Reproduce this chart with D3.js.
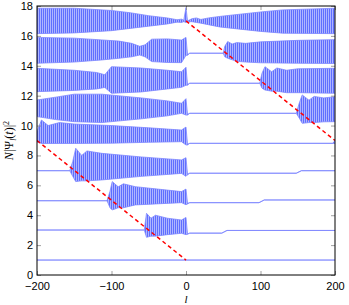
<!DOCTYPE html>
<html>
<head>
<meta charset="utf-8">
<script src="https://cdn.jsdelivr.net/npm/d3@7"></script>
<style>
  body { margin: 0; background: #fff; }
  .axis text { font-family: "Liberation Sans", Arial, sans-serif; font-size: 11px; fill: #000; }
</style>
</head>
<body>
<div class="canva"></div>
<script>
// wave packet envelopes: [l, top, bottom]
var psi1 = [[-200,1,1],[200,1,1]];
var psi3 = [[-200,3.01,3.01],[-56,3.01,3.01],[-53,4.13,2.52],[-47,3.8,2.6],[-41,4.0,2.6],[-25,3.8,2.7],[-6,3.68,2.79],[0,3.85,2.7],
            [2,2.75,2.72],[5,2.8,2.8],[48,2.8,2.8],[55,2.98,2.98],[200,2.98,2.98]];
var psi5 = [[-200,4.97,4.97],[-106,4.97,4.97],[-102,5.6,4.5],[-99,6.25,4.35],[-91,5.9,4.5],[-84,6.1,4.5],[-68,5.91,4.69],[-6,5.58,4.84],[0,5.75,4.7],
            [2,4.8,4.75],[5,4.84,4.84],[98,4.84,4.84],[105,5.02,5.02],[200,5.02,5.02]];
var psi7 = [[-200,6.98,6.98],[-156,6.98,6.98],[-152,7.6,6.6],[-148,8.48,6.25],[-140,8.0,6.3],[-133,8.3,6.3],[-113,8.14,6.36],[-60,7.9,6.6],[-6,7.7,6.8],[0,7.85,6.6],
            [2,6.75,6.7],[5,6.81,6.81],[148,6.81,6.81],[155,6.98,6.98],[200,6.98,6.98]];
var psi9 = [[-200,9.6,8.9],[-194,10.37,8.8],[-185,10.0,8.8],[-170,10.2,8.8],[-150,10.1,8.8],[-100,10.0,8.82],[-50,9.85,8.88],[-6,9.7,8.92],[0,9.9,8.7],
            [2,8.75,8.7],[5,8.81,8.81],[197,8.81,8.81],[200,9.0,8.8]];
var psi11 = [[-200,11.71,10.6],[-175,11.9,10.4],[-150,12.1,10.26],[-113,12.1,10.2],[-60,11.85,10.45],[-25,11.65,10.65],[-6,11.49,10.82],[0,11.8,10.7],
             [2,10.75,10.7],[5,10.82,10.82],[148,10.82,10.82],[152,11.5,10.5],[156,12.05,10.15],[165,11.7,10.2],[172,11.95,10.2],[185,11.85,10.25],[200,11.93,10.26]];
var psi13 = [[-200,13.83,12.27],[-150,13.7,12.35],[-120,13.55,12.45],[-109,13.4,12.55],[-100,13.94,12.16],[-60,13.85,12.25],[-25,13.7,12.45],[-6,13.6,12.56],[0,13.9,12.7],
             [2,12.75,12.7],[5,12.83,12.83],[99,12.83,12.83],[102,13.5,12.5],[106,13.94,12.38],[115,13.6,12.3],[122,13.85,12.3],[135,13.7,12.2],[150,13.8,12.2],[200,13.83,12.16]];
var psi15 = [[-200,15.9,14.17],[-150,15.85,14.25],[-113,15.73,14.39],[-90,15.65,14.5],[-73,15.5,14.6],[-62,15.3,14.72],[-55,15.4,14.6],[-46,15.78,14.28],[-25,15.8,14.22],[-6,15.72,14.21],[0,15.9,14.7],
             [2,14.75,14.7],[5,14.84,14.84],[50,14.84,14.84],[52,15.3,14.6],[56,15.62,14.5],[62,15.45,14.4],[68,15.55,14.3],[80,15.5,14.25],[100,15.6,14.2],[150,15.7,14.17],[200,15.75,14.15]];
var psi17 = [[-200,17.85,16.15],[-150,17.85,16.2],[-100,17.7,16.35],[-75,17.55,16.5],[-50,17.35,16.65],[-25,17.2,16.8],[-12,17.08,16.92],[-6,17.12,16.9],[-3,17.05,16.95],[0,17.9,16.9],
             [2,17.0,16.95],[8,17.15,16.95],[14,17.2,16.9],[20,17.1,16.85],[30,17.2,16.75],[45,17.3,16.6],[63,17.4,16.5],[100,17.6,16.3],[130,17.74,16.18],[200,17.85,16.15]];
var traces = [psi1, psi3, psi5, psi7, psi9, psi11, psi13, psi15, psi17];

// red dashed fronts
var frontLeft = [[-200,9],[0,1]];
var frontRight = [[0,17],[200,9]];

var xTicks = [-200,-100,0,100,200];
var yTicks = [0,2,4,6,8,10,12,14,16,18];

const svg = d3.select('.canva').append('svg')
    .attr('width', 349)
    .attr('height', 305);

const margin = {top: 6, right: 14, bottom: 30, left: 37};
const graphWidth = 349 - margin.left - margin.right;
const graphHeight = 305 - margin.top - margin.bottom;

const defs = svg.append('defs');
const pat = defs.append('pattern')
    .attr('id', 'stripes')
    .attr('patternUnits', 'userSpaceOnUse')
    .attr('width', 2)
    .attr('height', 20);
pat.append('rect').attr('width', 2).attr('height', 20).attr('fill', '#aeb5ff');
pat.append('rect').attr('width', 1).attr('height', 20).attr('fill', '#5f6eff');

defs.append('clipPath').attr('id', 'clip')
    .append('rect').attr('width', graphWidth).attr('height', graphHeight);

const g = svg.append('g')
    .attr('transform', `translate(${margin.left},${margin.top})`);

var x = d3.scaleLinear().domain([-200, 200]).range([0, graphWidth]);
var y = d3.scaleLinear().domain([0, 18]).range([graphHeight, 0]);

var band = d3.area()
    .x(d => x(d[0]))
    .y0(d => y(d[2]))
    .y1(d => y(d[1]));

const plot = g.append('g').attr('clip-path', 'url(#clip)');

plot.selectAll('path.band')
    .data(traces)
    .enter().append('path')
    .attr('class', 'band')
    .attr('d', band)
    .attr('fill', 'url(#stripes)')
    .attr('stroke', '#7a84ff')
    .attr('stroke-opacity', 0.85)
    .attr('stroke-width', 0.9);

var line = d3.line().x(d => x(d[0])).y(d => y(d[1]));
plot.selectAll('path.front')
    .data([frontLeft, frontRight])
    .enter().append('path')
    .attr('class', 'front')
    .attr('d', line)
    .attr('fill', 'none')
    .attr('stroke', '#ff0000')
    .attr('stroke-width', 1.5)
    .attr('stroke-dasharray', '4,3');

//axes, ticks inward on all sides
var xAxis = d3.axisBottom(x).tickValues(xTicks).tickSize(-4).tickPadding(7)
    .tickFormat(d => d < 0 ? '\u2212' + Math.abs(d) : d);
var yAxis = d3.axisLeft(y).tickValues(yTicks).tickSize(-4).tickPadding(4);

var gx = g.append('g').attr('class', 'axis')
    .attr('transform', `translate(0,${graphHeight})`)
    .call(xAxis);
var gy = g.append('g').attr('class', 'axis').call(yAxis);
g.append('g').attr('class', 'axis')
    .call(d3.axisTop(x).tickValues(xTicks).tickSize(-4).tickFormat(''));
g.append('g').attr('class', 'axis')
    .attr('transform', `translate(${graphWidth},0)`)
    .call(d3.axisRight(y).tickValues(yTicks).tickSize(-4).tickFormat(''));

g.selectAll('.axis .domain').remove();
g.selectAll('.axis .tick line').attr('stroke', '#888').attr('stroke-width', 0.8);

g.append('rect')
    .attr('width', graphWidth)
    .attr('height', graphHeight)
    .attr('fill', 'none')
    .attr('stroke', '#000')
    .attr('stroke-width', 1);

// labels
svg.append('text')
    .attr('x', margin.left + x(0))
    .attr('y', 303)
    .attr('text-anchor', 'middle')
    .style('font-family', '"Liberation Serif", serif')
    .style('font-style', 'italic')
    .style('font-size', '11px')
    .text('l');

const yl = svg.append('text')
    .attr('transform', `translate(13,${margin.top + y(9)}) rotate(-90)`)
    .attr('text-anchor', 'middle')
    .style('font-family', '"Liberation Serif", serif')
    .style('font-size', '12px');
yl.append('tspan').style('font-style', 'italic').text('N');
yl.append('tspan').text('|\u03A8');
yl.append('tspan').style('font-style', 'italic').attr('dy', 3).style('font-size', '8px').text('l');
yl.append('tspan').attr('dy', -3).text('(');
yl.append('tspan').style('font-style', 'italic').text('t');
yl.append('tspan').text(')|');
yl.append('tspan').attr('dy', -4).style('font-size', '8px').text('2');
</script>
</body>
</html>
